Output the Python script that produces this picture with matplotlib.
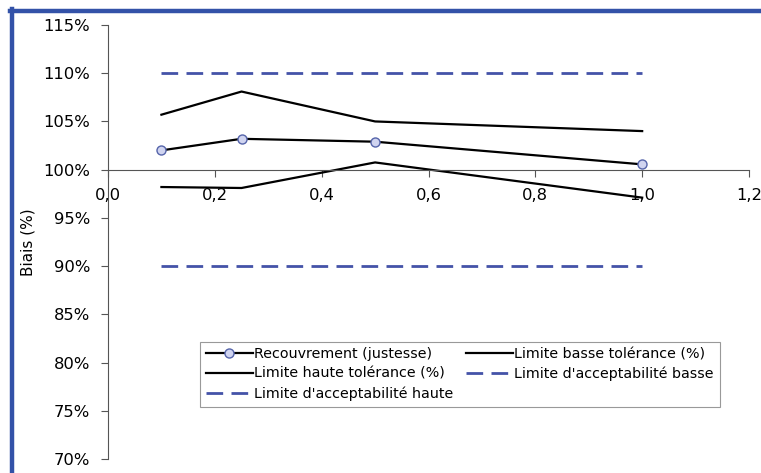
import matplotlib
matplotlib.use("Agg")
import matplotlib.pyplot as plt
from matplotlib.ticker import PercentFormatter, FuncFormatter
from matplotlib.lines import Line2D

# data
niveaux = [0.1, 0.25, 0.5, 1.0]
recouvrement = [1.020, 1.032, 1.029, 1.0055]
limite_basse = [0.982, 0.981, 1.0075, 0.971]
limite_haute = [1.057, 1.081, 1.050, 1.040]
acc_basse = [0.90, 0.90, 0.90, 0.90]
acc_haute = [1.10, 1.10, 1.10, 1.10]

plt.rcParams['font.family'] = ['DejaVu Sans']
plt.rcParams['lines.scale_dashes'] = False

W, H = 761, 473
fig = plt.figure(figsize=(W / 100, H / 100), dpi=100)
ax = fig.add_axes([108 / W, 14 / H, (749 - 108) / W, (459 - 25) / H])

blue = '#4453a8'
ax.plot(niveaux, recouvrement, color='black', lw=1.6, marker='o', ms=6.5,
        mfc='#d0d4f0', mec='#5564aa', mew=1.0, zorder=4)
ax.plot(niveaux, limite_basse, color='black', lw=1.6)
ax.plot(niveaux, limite_haute, color='black', lw=1.6)
ax.plot(niveaux, acc_basse, color=blue, lw=2, dashes=(12, 6))
ax.plot(niveaux, acc_haute, color=blue, lw=2, dashes=(12, 6))

ax.set_xlim(0, 1.2)
ax.set_ylim(0.70, 1.15)
ax.set_xticks([0, 0.2, 0.4, 0.6, 0.8, 1.0, 1.2])
ax.set_yticks([0.70, 0.75, 0.80, 0.85, 0.90, 0.95, 1.00, 1.05, 1.10, 1.15])
ax.yaxis.set_major_formatter(PercentFormatter(1.0, decimals=0))
ax.xaxis.set_major_formatter(FuncFormatter(lambda v, p: ('%.1f' % v).replace('.', ',')))

for s in ['top', 'right']:
    ax.spines[s].set_visible(False)
ax.spines['bottom'].set_position(('data', 1.0))
ax.spines['left'].set_color('#555555')
ax.spines['bottom'].set_color('#555555')
ax.tick_params(axis='both', colors='#555555', labelcolor='black', labelsize=11.8, length=5)
ax.tick_params(axis='y', pad=8)
ax.tick_params(axis='x', pad=8)
ax.set_ylabel('Biais (%)', fontsize=11)
ax.yaxis.set_label_coords(-72 / 641, 0.5)

rec = Line2D([], [], color='black', lw=1.6, marker='o', ms=6.5, mfc='#d0d4f0', mec='#5564aa')
haute = Line2D([], [], color='black', lw=1.6)
basse = Line2D([], [], color='black', lw=1.6)
ah = Line2D([], [], color=blue, lw=2, dashes=(12, 6))
ab = Line2D([], [], color=blue, lw=2, dashes=(12, 6))
leg = ax.legend([rec, haute, ah, basse, ab],
                ['Recouvrement (justesse)', 'Limite haute tolérance (%)', "Limite d'acceptabilité haute",
                 'Limite basse tolérance (%)', "Limite d'acceptabilité basse"],
                ncol=2, loc='lower left', bbox_to_anchor=(0.1435, 0.12), fontsize=10.3,
                frameon=True, fancybox=False, edgecolor='#999999', framealpha=1,
                handlelength=3.3, handletextpad=0.1, columnspacing=0.85,
                labelspacing=0.4, borderpad=0.4, borderaxespad=0)
leg.get_frame().set_linewidth(0.8)

# blue frame around the picture
fig.add_artist(plt.Line2D([10 / W, 1], [1 - 11 / H, 1 - 11 / H], color='#3352a8', lw=3.2,
                          transform=fig.transFigure))
fig.add_artist(plt.Line2D([11.5 / W, 11.5 / W], [0, 1 - 9.5 / H], color='#3352a8', lw=3.2,
                          transform=fig.transFigure))

fig.savefig('out.png', dpi=100)
